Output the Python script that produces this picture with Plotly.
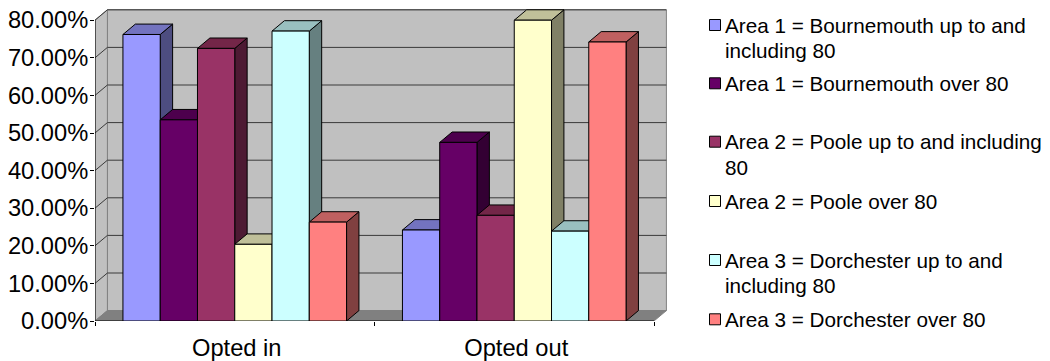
import plotly.graph_objects as go

categories = ["Opted in", "Opted out"]
series_names = [
    "Area 1 = Bournemouth up to and including 80",
    "Area 1 = Bournemouth over 80",
    "Area 2 = Poole up to and including 80",
    "Area 2 = Poole over 80",
    "Area 3 = Dorchester up to and including 80",
    "Area 3 = Dorchester over 80",
]
opted_in = [0.762, 0.535, 0.725, 0.204, 0.771, 0.263]
opted_out = [0.242, 0.475, 0.281, 0.800, 0.239, 0.742]
tick_values = [0, 0.1, 0.2, 0.3, 0.4, 0.5, 0.6, 0.7, 0.8]

front_colors = ["#9999FF", "#660066", "#993366", "#FFFFCC", "#CCFFFF", "#FF8080"]
top_colors = ["#7373BF", "#4D004D", "#732648", "#BFBF99", "#99BFBF", "#BF6060"]
side_colors = ["#4D4D80", "#330033", "#4D1A33", "#808066", "#668080", "#804040"]

legend_rows = [
    (["Area 1 = Bournemouth up to and", "including 80"], 25),
    (["Area 1 = Bournemouth over 80"], 83.3),
    (["Area 2 = Poole up to and including", "80"], 141.7),
    (["Area 2 = Poole over 80"], 201),
    (["Area 3 = Dorchester up to and", "including 80"], 260),
    (["Area 3 = Dorchester over 80"], 319.3),
]

# The page has a default 8px body margin, so the figure starts at (8, 8).
OFF = 8
W, H = 1050 - OFF, 361 - OFF
L, R, T, B = 95 - OFF, 381, 0, 40
PW, PH = W - L - R, H - T - B
PX_PER_CAT = 279.5
PX_PER_UNIT = 376.0
DX = 12.4 / PX_PER_CAT
DY = 10.4 / PX_PER_UNIT
XMIN, XEND = -0.5, 1.5
BAR_W = 0.8 / 6
GRID = "#3a3a3a"
FONT = "Liberation Sans"
AXIS_FONT = 23.7
LEGEND_FONT = 20.7


def path(points):
    return "M " + " L ".join(f"{x:.5f},{y:.5f}" for x, y in points) + " Z"


def poly(points, fill, line="#000000", width=1):
    return dict(type="path", xref="x", yref="y", layer="below", path=path(points),
                fillcolor=fill, line=dict(color=line, width=width))


def seg(p, q, color, width=1):
    return dict(type="line", xref="x", yref="y", layer="below",
                x0=p[0], y0=p[1], x1=q[0], y1=q[1], line=dict(color=color, width=width))


ymax = tick_values[-1]
shapes = [
    poly([(XMIN + DX, DY), (XEND + DX, DY), (XEND + DX, ymax + DY), (XMIN + DX, ymax + DY)],
         "#C0C0C0", "#808080", 1),
    poly([(XMIN, 0), (XMIN + DX, DY), (XMIN + DX, ymax + DY), (XMIN, ymax)], "#C0C0C0", "#808080", 1),
    poly([(XMIN, 0), (XEND, 0), (XEND + DX, DY), (XMIN + DX, DY)], "#808080", "#808080", 1),
]
for v in tick_values[1:]:
    shapes.append(seg((XMIN, v), (XMIN + DX, v + DY), GRID))
    shapes.append(seg((XMIN + DX, v + DY), (XEND + DX, v + DY), GRID))

shapes.append(seg((XMIN, 0), (XMIN, ymax), "#000000"))
shapes.append(seg((XMIN, 0), (XEND, 0), "#000000"))

for c, values in enumerate([opted_in, opted_out]):
    for s, v in enumerate(values):
        x0 = c - 0.4 + s * BAR_W
        x1 = x0 + BAR_W
        shapes.append(poly([(x1, 0), (x1 + DX, DY), (x1 + DX, v + DY), (x1, v)], side_colors[s]))
        shapes.append(poly([(x0, v), (x1, v), (x1 + DX, v + DY), (x0 + DX, v + DY)], top_colors[s]))

fig = go.Figure()
for s, name in enumerate(series_names):
    fig.add_trace(go.Bar(
        name=name, x=[0, 1], y=[opted_in[s], opted_out[s]],
        marker=dict(color=front_colors[s], line=dict(color="#000000", width=1)),
        showlegend=False,
    ))


def px_x(x):
    return (x - OFF - L) / PW


def px_y(y):
    return 1 - (y - OFF - T) / PH


annotations = []
for i, (lines, yc) in enumerate(legend_rows):
    shapes.append(dict(type="rect", xref="paper", yref="paper",
                       x0=px_x(709.5), x1=px_x(720.5), y0=px_y(yc + 5.5), y1=px_y(yc - 5.5),
                       fillcolor=front_colors[i], line=dict(color="#000000", width=1)))
    for j, line in enumerate(lines):
        annotations.append(dict(xref="paper", yref="paper", x=px_x(723), y=px_y(yc + j * 25.5),
                                text=line, showarrow=False, xanchor="left", yanchor="middle",
                                font=dict(size=LEGEND_FONT, color="#000000", family=FONT)))

fig.update_layout(
    width=W, height=H, margin=dict(l=L, r=R, t=T, b=B, autoexpand=False),
    paper_bgcolor="#FFFFFF", plot_bgcolor="#FFFFFF",
    barmode="group", bargap=0.2, bargroupgap=0,
    font=dict(family=FONT, color="#000000"),
    shapes=shapes, annotations=annotations,
    xaxis=dict(range=[XMIN, XMIN + PW / PX_PER_CAT], tickmode="array", tickvals=[0, 1],
               ticktext=categories, ticks="", showgrid=False, zeroline=False, showline=False,
               tickfont=dict(size=AXIS_FONT), ticklabelstandoff=10, ticklabelshift=2,
               ticklabeloverflow="allow",
               minor=dict(tickmode="array", tickvals=[-0.5, 0.5, 1.5], ticks="outside",
                          ticklen=4, tickcolor="#000000", tickwidth=1, showgrid=False)),
    yaxis=dict(range=[0, PH / PX_PER_UNIT], tickmode="array", tickvals=tick_values,
               tickformat=".2%", ticks="outside", ticklen=4, tickcolor="#000000", tickwidth=1,
               showgrid=False, zeroline=False, showline=False,
               tickfont=dict(size=AXIS_FONT), ticklabelstandoff=-3, ticklabeloverflow="allow"),
)

fig.write_html("out.html")
